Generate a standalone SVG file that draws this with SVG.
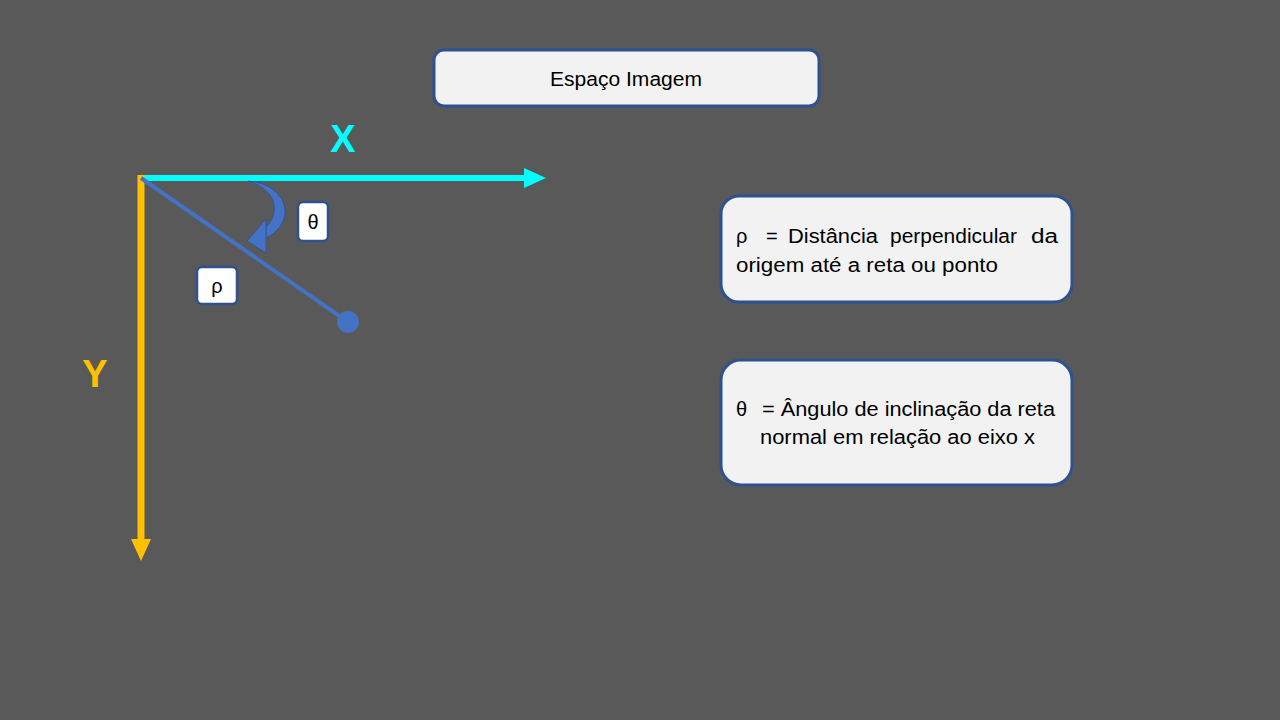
<svg xmlns="http://www.w3.org/2000/svg" width="1280" height="720" viewBox="0 0 1280 720">
<defs>
<style>
.box{fill:#F2F2F2;stroke:#2F528F;stroke-width:3}
.lbl{fill:#FFFFFF;stroke:#2F528F;stroke-width:2.5}
.t{font-family:"Liberation Sans",Arial,sans-serif;font-size:20px;fill:#000}
.ax{font-family:"Liberation Sans",Arial,sans-serif;font-size:38px;font-weight:bold}
</style>
</defs>
<rect width="1280" height="720" fill="#595959"/>
<g id="connectors">
<line x1="141" y1="178" x2="526" y2="178" stroke="#00FFFF" stroke-width="6"/>
<polygon points="524,168 546,178 524,188" fill="#00FFFF"/>
<line x1="141" y1="175" x2="141" y2="541" stroke="#FFC000" stroke-width="7"/>
<polygon points="131,539 151,539 141,561" fill="#FFC000"/>
<line x1="141" y1="178" x2="348" y2="322" stroke="#4472C4" stroke-width="4"/>
<circle cx="348" cy="322" r="11" fill="#4472C4"/>
<g id="theta-arrow" fill="#4472C4" stroke="#2F528F" stroke-width="0.8">
<path d="M248 181 C288 184 298 222 266 238 L266 227 C280 214 278 190 248 181 Z"/>
<polygon points="247,241 266,219 266,253"/>
</g>
</g>
<g id="axis-x"><text class="ax" x="343" y="152" text-anchor="middle" fill="#00FFFF">X</text></g>
<g id="axis-y"><text class="ax" x="95" y="387" text-anchor="middle" fill="#FFC000">Y</text></g>
<g id="label-theta">
<rect class="lbl" x="298" y="202" width="30" height="39" rx="5"/>
<text class="t" x="313" y="229" text-anchor="middle">θ</text>
</g>
<g id="label-rho">
<rect class="lbl" x="197" y="267" width="40" height="37" rx="5"/>
<text class="t" x="217" y="293" text-anchor="middle">ρ</text>
</g>
<g id="title">
<rect class="box" x="434" y="50" width="385" height="56" rx="10"/>
<text class="t" x="550" y="86" textLength="152" lengthAdjust="spacingAndGlyphs">Espaço Imagem</text>
</g>
<g id="rho-def">
<rect class="box" x="721" y="196" width="351" height="106" rx="18"/>
<text class="t" x="736" y="243">ρ</text>
<text class="t" x="766" y="243">=</text>
<text class="t" x="788" y="243" textLength="90" lengthAdjust="spacingAndGlyphs">Distância</text>
<text class="t" x="890" y="243" textLength="127" lengthAdjust="spacingAndGlyphs">perpendicular</text>
<text class="t" x="1031" y="243" textLength="27" lengthAdjust="spacingAndGlyphs">da</text>
<text class="t" x="736" y="272" textLength="262" lengthAdjust="spacingAndGlyphs">origem até a reta ou ponto</text>
</g>
<g id="theta-def">
<rect class="box" x="721" y="360" width="351" height="125" rx="20"/>
<text class="t" x="736" y="416">θ</text>
<text class="t" x="762" y="416" textLength="293" lengthAdjust="spacingAndGlyphs">= Ângulo de inclinação da reta</text>
<text class="t" x="760" y="444" textLength="275" lengthAdjust="spacingAndGlyphs">normal em relação ao eixo x</text>
</g>
</svg>
